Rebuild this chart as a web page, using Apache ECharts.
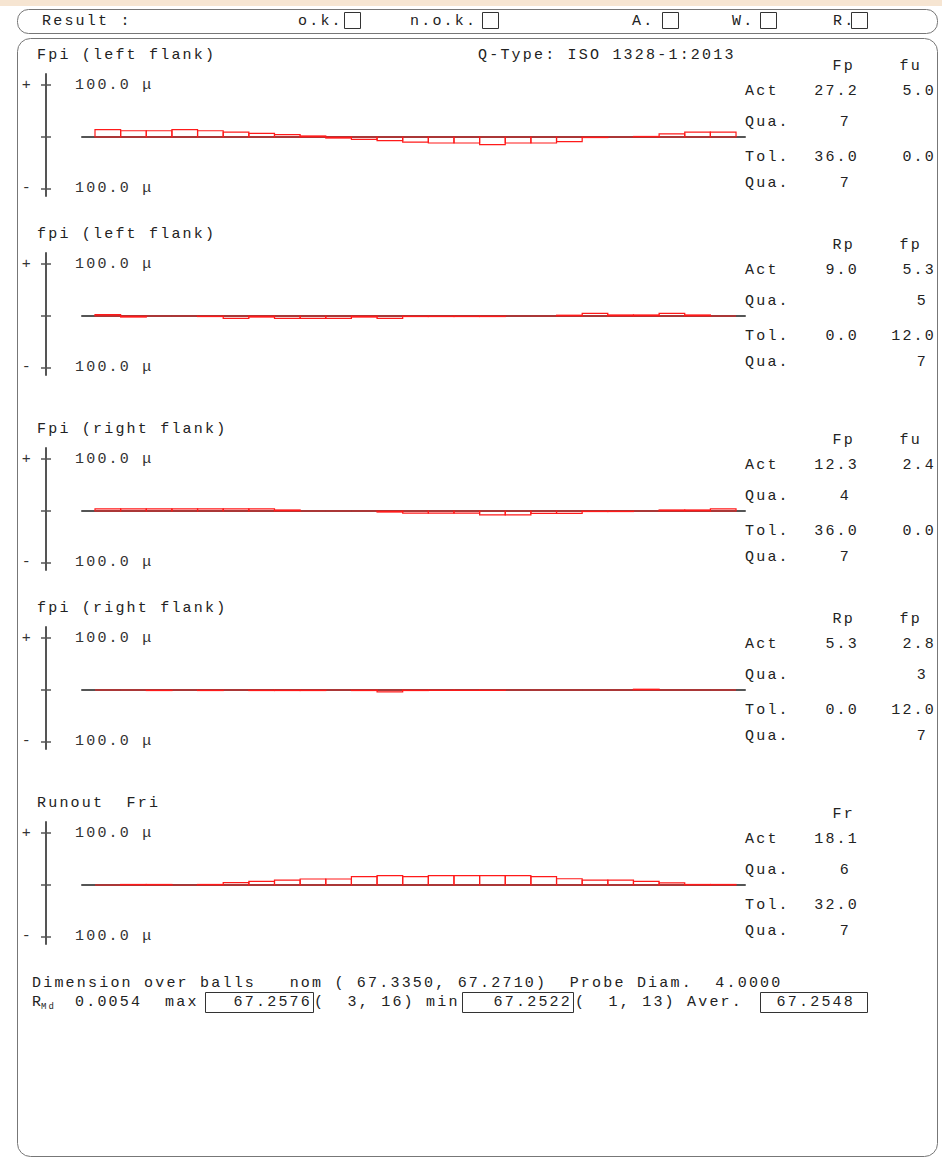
<!DOCTYPE html>
<html><head><meta charset="utf-8">
<script src="https://cdn.jsdelivr.net/npm/echarts@6/dist/echarts.min.js"></script>
<style>
html,body{margin:0;padding:0;background:#fff;}
#c{width:942px;height:1162px;letter-spacing:2.2px;}
</style></head><body><div id="c"></div>
<script>
// ---- data ----
const categories = [1,2,3,4,5,6,7,8,9,10,11,12,13,14,15,16,17,18,19,20,21,22,23,24,25];
const fpiLeftTotal  = [14, 12, 12, 14, 12, 9.5, 7, 4.5, 2, -2, -4.5, -7, -10, -11.5, -11.5, -14.5, -11.5, -11.5, -9, -1, 0, 1, 6, 9.5, 9.5];
const fpiLeftSingle = [2.5, -2, 0, 0, -1, -4.5, -2, -4.5, -4.5, -4.5, -2, -4.5, -1, -1, -1, -1, 0, 0, 1.5, 5, 2, 2, 5, 2, 0];
const fpiRightTotal = [4, 4, 4, 4, 4, 4, 4, 2, 0, 0, 0, -2, -4, -4, -4, -7.5, -7.5, -4.5, -4.5, -1, -1, 0, 2, 2, 4];
const fpiRightSingle= [0, 0, -1, 0, -1, 0, -1, -1, -1, 0, -1, -3.5, -1, -0.7, -0.7, -0.7, 0, 0, 0, 0, 0, 1.5, 0, 0, 0];
const runoutFri     = [0, 1, 1, 0, 1, 4.5, 7, 9.5, 11.5, 11.5, 16, 18, 16, 18, 18, 18, 18, 16, 12, 9.5, 9.5, 7, 4, 1, 1];
const chartValues = [fpiLeftTotal, fpiLeftSingle, fpiRightTotal, fpiRightSingle, runoutFri];

const chartTitles = ['Fpi (left flank)', 'fpi (left flank)', 'Fpi (right flank)', 'fpi (right flank)', 'Runout  Fri'];
const colHeads   = [['Fp','fu'], ['Rp','fp'], ['Fp','fu'], ['Rp','fp'], ['Fr']];
const actValues  = [['27.2','5.0'], ['9.0','5.3'], ['12.3','2.4'], ['5.3','2.8'], ['18.1']];
const actQua     = [['7',''], ['','5'], ['4',''], ['','3'], ['6']];
const tolValues  = [['36.0','0.0'], ['0.0','12.0'], ['36.0','0.0'], ['0.0','12.0'], ['32.0']];
const tolQua     = [['7',''], ['','7'], ['7',''], ['','7'], ['7']];
const tickValues  = [-100, 0, 100];
const labelValues = [100, -100];
const scaleLabel  = '100.0 \u03bc';
const resultItems = ['o.k.', 'n.o.k.', 'A.', 'W.', 'R.'];
const qType = 'Q-Type: ISO 1328-1:2013';
const dimLine = 'Dimension over balls   nom ( 67.3350, 67.2710)  Probe Diam.  4.0000';
const rmdValue = '0.0054';
const maxValue = '67.2576', maxPos = '(  3, 16)';
const minValue = '67.2522', minPos = '(  1, 13)';
const averValue = '67.2548';

// ---- layout ----
const FONT = '"Liberation Mono", monospace';
const zeroY = [137, 316, 511, 690, 885];
const chart = echarts.init(document.getElementById('c'), null, {renderer: 'svg'});

function txt(x, y, t, o) {
  o = o || {};
  return {type: 'text', x: x, y: y, z: 10, style: {
    text: t, fontFamily: FONT, fontSize: o.size || 15, fill: o.color || '#222',
    textAlign: o.align || 'left', align: o.align || 'left',
    textVerticalAlign: 'middle', verticalAlign: 'middle'
  }};
}
function box(x, y, w, h, r, stroke, lw) {
  return {type: 'rect', z: 5, shape: {x: x, y: y, width: w, height: h, r: r || 0},
    style: {fill: 'none', stroke: stroke || '#333', lineWidth: lw || 1}};
}

const grids = [], xAxes = [], yAxes = [], series = [], graphics = [];
const labelStyle = {fontFamily: FONT, fontSize: 15, color: '#333'};

chartValues.forEach(function (vals, k) {
  const Z = zeroY[k];
  grids.push({left: 82, width: 663, top: Z - 63, height: 122});
  xAxes.push({gridIndex: k, type: 'value', min: -0.507, max: 25.35,
    axisLine: {show: true, onZero: true, lineStyle: {color: '#555', width: 2}},
    axisTick: {show: false}, axisLabel: {show: false}, splitLine: {show: false}});
  yAxes.push({gridIndex: k, type: 'value', min: -113.5, max: 121.2, position: 'left', offset: 36,
    axisLine: {show: true, onZero: false, lineStyle: {color: '#555', width: 2}},
    axisTick: {show: true, length: 5, customValues: tickValues, lineStyle: {color: '#555', width: 1.5}},
    axisLabel: Object.assign({show: true, customValues: labelValues, margin: 13,
      formatter: function (v) { return v > 0 ? '+' : '-'; }}, labelStyle),
    splitLine: {show: false}});
  yAxes.push({gridIndex: k, type: 'value', min: -113.5, max: 121.2, position: 'left', offset: 36,
    axisLine: {show: false, onZero: false},
    axisTick: {show: true, inside: true, length: 5, customValues: tickValues, lineStyle: {color: '#555', width: 1.5}},
    axisLabel: Object.assign({show: true, inside: true, customValues: labelValues, margin: 29,
      formatter: function () { return scaleLabel; }}, labelStyle),
    splitLine: {show: false}});
  series.push({type: 'custom', xAxisIndex: k, yAxisIndex: 2 * k, z: 5, clip: false,
    data: categories.map(function (c, i) { return [c, vals[i]]; }),
    renderItem: function (params, api) {
      const i = api.value(0), v = api.value(1);
      const p0 = api.coord([i - 1, 0]), p1 = api.coord([i, v]);
      return {type: 'rect',
        shape: {x: p0[0], y: Math.min(p0[1], p1[1]), width: p1[0] - p0[0], height: Math.abs(p1[1] - p0[1])},
        style: {fill: 'none', stroke: '#ff1a1a', lineWidth: 1.2}};
    }});

  // texts
  graphics.push(txt(37, Z - 82, chartTitles[k]));
  const c1 = 859, c2 = 936;
  const hy = Z - 71, ay = Z - 46, qy = Z - 15, ty = Z + 20, q2y = Z + 46;
  graphics.push(txt(855, hy, colHeads[k][0], {align: 'right'}));
  if (colHeads[k][1]) graphics.push(txt(922, hy, colHeads[k][1], {align: 'right'}));
  graphics.push(txt(745, ay, 'Act'));
  graphics.push(txt(c1, ay, actValues[k][0], {align: 'right'}));
  if (actValues[k][1]) graphics.push(txt(c2, ay, actValues[k][1], {align: 'right'}));
  graphics.push(txt(745, qy, 'Qua.'));
  if (actQua[k][0]) graphics.push(txt(851, qy, actQua[k][0], {align: 'right'}));
  if (actQua[k][1]) graphics.push(txt(928, qy, actQua[k][1], {align: 'right'}));
  graphics.push(txt(745, ty, 'Tol.'));
  graphics.push(txt(c1, ty, tolValues[k][0], {align: 'right'}));
  if (tolValues[k][1]) graphics.push(txt(c2, ty, tolValues[k][1], {align: 'right'}));
  graphics.push(txt(745, q2y, 'Qua.'));
  if (tolQua[k][0]) graphics.push(txt(851, q2y, tolQua[k][0], {align: 'right'}));
  if (tolQua[k][1]) graphics.push(txt(928, q2y, tolQua[k][1], {align: 'right'}));
});

// header strip and frames
graphics.push({type: 'rect', z: 1, shape: {x: 0, y: 0, width: 942, height: 6}, style: {fill: '#f6e5d2'}});
graphics.push(box(17.5, 9.5, 920, 24, 11, '#777', 1));
graphics.push(box(17.5, 38.5, 920, 1118, 13, '#777', 1));
graphics.push(txt(42, 21, 'Result :'));
const resX = [298, 410, 632, 732, 833], resBox = [344, 482, 662, 760, 851];
resultItems.forEach(function (t, i) {
  graphics.push(txt(resX[i], 21, t));
  graphics.push(box(resBox[i] + 0.5, 12.5, 16, 16, 0, '#333', 1));
});
graphics.push(txt(478, 55, qType));

// bottom text
graphics.push(txt(32, 983, dimLine));
graphics.push(txt(32, 1002, 'R'));
graphics.push(txt(41, 1007, 'Md', {size: 9}));
graphics.push(txt(75, 1002, rmdValue));
graphics.push(txt(165, 1002, 'max'));
graphics.push(box(205.5, 992.5, 108, 20, 0, '#333', 1));
graphics.push(txt(312, 1002, maxValue, {align: 'right'}));
graphics.push(txt(314, 1002, maxPos + ' min'));
graphics.push(box(462.5, 992.5, 111, 20, 0, '#333', 1));
graphics.push(txt(572, 1002, minValue, {align: 'right'}));
graphics.push(txt(575, 1002, minPos + ' Aver.'));
graphics.push(box(760.5, 992.5, 107, 20, 0, '#333', 1));
graphics.push(txt(855, 1002, averValue, {align: 'right'}));

chart.setOption({
  animation: false,
  backgroundColor: '#fff',
  grid: grids, xAxis: xAxes, yAxis: yAxes, series: series,
  graphic: {elements: graphics}
});
</script></body></html>
